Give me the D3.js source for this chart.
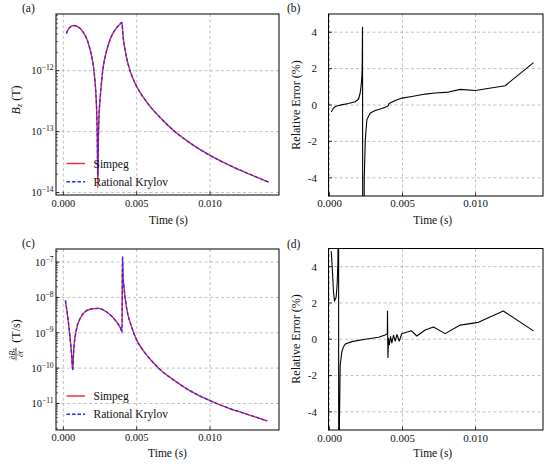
<!DOCTYPE html>
<html><head><meta charset="utf-8">
<script src="https://cdn.jsdelivr.net/npm/d3@7"></script>
<style>body{margin:0;background:#fff}</style>
</head><body><svg id="c" width="550" height="464" style="font-family:'Liberation Serif'"></svg>
<script>
// ---------- data ----------
const timeA = [0.0002,0.0004,0.0007,0.0010,0.0013,0.0016,0.0018,0.0020,0.0021,0.0022,0.00227,0.00231,0.00235,0.00239,0.00243,0.0025,0.0026,0.0027,0.0029,0.0032,0.0035,0.0038,0.0040,0.00405,0.0042,0.0044,0.0047,0.0050,0.0057,0.0066,0.0075,0.0086,0.0100,0.0113,0.0127,0.0140];
const bzSimpeg = [4.07e-12,5.01e-12,5.50e-12,5.25e-12,4.47e-12,3.31e-12,2.34e-12,1.41e-12,9.3e-13,5.0e-13,2.24e-13,8.9e-14,1.2e-14,7.9e-14,1.78e-13,3.3e-13,6.3e-13,1.07e-12,1.9e-12,3.3e-12,4.57e-12,5.62e-12,6.17e-12,4.17e-12,2.24e-12,1.32e-12,7.9e-13,5.5e-13,3.02e-13,1.70e-13,1.05e-13,6.6e-14,4.07e-14,2.82e-14,2.0e-14,1.48e-14];
const bzKrylov = [4.07e-12,5.01e-12,5.50e-12,5.25e-12,4.47e-12,3.31e-12,2.34e-12,1.41e-12,9.3e-13,5.0e-13,2.24e-13,9.2e-14,1.9e-14,8.2e-14,1.78e-13,3.3e-13,6.3e-13,1.07e-12,1.9e-12,3.3e-12,4.57e-12,5.62e-12,6.17e-12,4.17e-12,2.24e-12,1.32e-12,7.9e-13,5.5e-13,3.02e-13,1.70e-13,1.05e-13,6.6e-14,4.07e-14,2.82e-14,2.0e-14,1.48e-14];

const timeB = [0.00012,0.00027,0.0004,0.00062,0.0009,0.0013,0.00176,0.00199,0.0021,0.00217,0.00222,0.00224,0.00226,0.00228,0.00235,0.00238,0.00245,0.00256,0.00279,0.00313,0.00359,0.00393,0.0040,0.00408,0.0043,0.0045,0.00496,0.00564,0.00655,0.00723,0.00815,0.00895,0.00998,0.01203,0.01397];
const errB = [-0.38,-0.17,-0.08,-0.03,0.02,0.08,0.18,0.33,0.66,1.11,1.6,2.3,4.27,-12,-12,-4.0,-1.9,-0.8,-0.44,-0.3,-0.19,-0.08,-0.06,0.08,0.17,0.25,0.38,0.47,0.6,0.66,0.71,0.86,0.8,1.06,2.33];

const timeC = [0.00014,0.0003,0.00045,0.00056,0.00064,0.0007,0.00087,0.0012,0.0015,0.0019,0.0024,0.0029,0.0033,0.0036,0.0039,0.0040,0.00403,0.00407,0.00413,0.0043,0.00465,0.0050,0.00541,0.00582,0.00655,0.00746,0.00859,0.0100,0.0113,0.0127,0.0139];
const dbSimpeg = [8.3e-9,2.8e-9,7.9e-10,2.5e-10,8.9e-11,2.8e-10,1.12e-9,2.8e-9,4.0e-9,4.7e-9,4.9e-9,4.0e-9,2.95e-9,2.1e-9,1.35e-9,1.12e-9,1.41e-7,4.0e-8,2.0e-8,5.4e-9,1.48e-9,6.2e-10,3.3e-10,2.0e-10,9.5e-11,4.8e-11,2.35e-11,1.2e-11,7.3e-12,4.7e-12,3.2e-12];
const dbKrylov = [8.3e-9,2.8e-9,7.9e-10,2.5e-10,8.5e-11,2.8e-10,1.12e-9,2.8e-9,4.0e-9,4.7e-9,4.9e-9,4.0e-9,2.95e-9,2.1e-9,1.35e-9,1.0e-9,1.45e-7,4.0e-8,2.0e-8,5.4e-9,1.48e-9,6.2e-10,3.3e-10,2.0e-10,9.5e-11,4.8e-11,2.35e-11,1.2e-11,7.3e-12,4.7e-12,3.2e-12];

const timeD = [0.00012,0.0002,0.00027,0.00034,0.00045,0.00052,0.00057,0.0006,0.00062,0.00063,0.00066,0.00068,0.00073,0.00084,0.00096,0.00108,0.00153,0.00245,0.00336,0.00381,0.00396,0.00397,0.0040,0.00404,0.0041,0.00418,0.00427,0.00438,0.0045,0.00462,0.00477,0.00495,0.0056,0.00598,0.00655,0.00712,0.00792,0.00895,0.0102,0.0119,0.01397];
const errD = [4.85,3.74,2.63,2.1,2.3,3.0,4.1,6,12,-12,-12,-4.5,-1.44,-0.7,-0.41,-0.26,-0.13,0.0,0.11,0.24,0.3,1.55,-1.0,0.05,-0.3,0.15,-0.2,0.22,-0.1,0.26,-0.1,0.3,0.47,0.18,0.51,0.68,0.31,0.78,0.93,1.56,0.46];

const timeTicks = [0, 0.005, 0.010];
const timeTickLabels = ["0.000","0.005","0.010"];
const errTicks = [-4,-2,0,2,4];
const errTickLabels = ["-4","-2","0","2","4"];
const bzDecades = [-14,-13,-12];
const dbDecades = [-11,-10,-9,-8,-7];
const legendLabels = ["Simpeg","Rational Krylov"];
const panelLetters = ["(a)","(b)","(c)","(d)"];

// ---------- drawing ----------
const FONT = "font-family:'Liberation Serif'";
const svg = d3.select("#c");
let clipN = 0;

function txt(sel){ return sel.append("text").attr("style", FONT).attr("fill","#111"); }

function panel(p){
  const g = svg.append("g");
  const x = d3.scaleLinear().domain(p.xd).range([p.l,p.r]);
  const y = (p.log ? d3.scaleLog() : d3.scaleLinear()).domain(p.yd).range([p.b,p.t]);
  const id = "clip"+(clipN++);
  svg.append("clipPath").attr("id",id).append("rect")
     .attr("x",p.l).attr("y",p.t).attr("width",p.r-p.l).attr("height",p.b-p.t);
  const yt = p.log ? p.decades.map(d=>Math.pow(10,d)) : errTicks;
  g.selectAll(".gx").data(timeTicks).join("line")
    .attr("x1",d=>x(d)).attr("x2",d=>x(d)).attr("y1",p.t).attr("y2",p.b)
    .attr("stroke","#b0b0b0").attr("stroke-width",0.8).attr("stroke-dasharray","3,2.5");
  g.selectAll(".gy").data(yt).join("line")
    .attr("x1",p.l).attr("x2",p.r).attr("y1",d=>y(d)).attr("y2",d=>y(d))
    .attr("stroke","#b0b0b0").attr("stroke-width",0.8).attr("stroke-dasharray","3,2.5");
  const lg = g.append("g").attr("clip-path",`url(#${id})`);
  p.series.forEach(s=>{
    const ln = d3.line().x((d,i)=>x(s.t[i])).y(d=>y(d)).curve(s.curve||d3.curveLinear);
    lg.append("path").attr("d",ln(s.v)).attr("fill","none")
      .attr("stroke",s.color).attr("stroke-width",s.w)
      .attr("stroke-dasharray",s.dash||null).attr("stroke-linejoin","round");
  });
  g.append("rect").attr("x",p.l).attr("y",p.t).attr("width",p.r-p.l).attr("height",p.b-p.t)
    .attr("fill","none").attr("stroke","#000").attr("stroke-width",1);
  g.selectAll(".tx").data(timeTicks).join("line")
    .attr("x1",d=>x(d)).attr("x2",d=>x(d)).attr("y1",p.b).attr("y2",p.b-3.5).attr("stroke","#000").attr("stroke-width",0.8);
  g.selectAll(".ty").data(yt).join("line")
    .attr("x1",p.l).attr("x2",p.l+3.5).attr("y1",d=>y(d)).attr("y2",d=>y(d)).attr("stroke","#000").attr("stroke-width",0.8);
  if(p.log){
    const minors=[];
    const lo=Math.floor(Math.log10(p.yd[0])), hi=Math.ceil(Math.log10(p.yd[1]));
    for(let k=lo;k<hi;k++) for(let m=2;m<10;m++){const v=m*Math.pow(10,k); if(v>=p.yd[0]&&v<=p.yd[1]) minors.push(v);}
    g.selectAll(".tm").data(minors).join("line")
      .attr("x1",p.l).attr("x2",p.l+2).attr("y1",d=>y(d)).attr("y2",d=>y(d)).attr("stroke","#000").attr("stroke-width",0.6);
  }
  timeTicks.forEach((d,i)=>{
    txt(g).attr("x",x(d)).attr("y",p.xlabY).attr("text-anchor","middle")
      .attr("font-size",p.tfs).text(timeTickLabels[i]);
  });
  if(p.log){
    p.decades.forEach(d=>{
      const t = txt(g).attr("x",p.ylabX).attr("y",y(Math.pow(10,d))).attr("dy","0.36em")
        .attr("text-anchor","end").attr("font-size",p.tfs);
      t.append("tspan").text("10");
      t.append("tspan").attr("dy","-0.55em").attr("font-size",p.tfs*0.72).text("\u2212"+Math.abs(d));
    });
  } else {
    errTicks.forEach((d,i)=>{
      txt(g).attr("x",p.ylabX).attr("y",y(d)).attr("dy","0.35em")
        .attr("text-anchor","end").attr("font-size",p.tfs).text(errTickLabels[i]);
    });
  }
  txt(g).attr("x",(p.l+p.r)/2+p.xTitleDx).attr("y",p.xTitleY).attr("text-anchor","middle")
    .attr("font-size",11.5).text("Time (s)");
  txt(g).attr("x",p.letterX).attr("y",p.letterY).attr("font-size",11.5).text(p.letter);
  return {g,x,y};
}

panel({l:56,r:279,t:14,b:195,xd:[-0.0005,0.0147],log:true,yd:[Math.pow(10,-14.04),Math.pow(10,-11.07)],
  decades:bzDecades,tfs:10.5,xlabY:207,ylabX:53.5,xTitleY:224,xTitleDx:1,letter:panelLetters[0],letterX:22,letterY:12,
  series:[{t:timeA,v:bzSimpeg,color:"#ff2020",w:1.4,curve:d3.curveMonotoneX},
          {t:timeA,v:bzKrylov,color:"#2a2aff",w:1.3,dash:"3.5,2",curve:d3.curveMonotoneX}]});
panel({l:328.5,r:543,t:14,b:196,xd:[-0.00007,0.01462],log:false,yd:[-5,5],
  tfs:11,xlabY:207,ylabX:317,xTitleY:224,xTitleDx:-3,letter:panelLetters[1],letterX:287,letterY:12,
  series:[{t:timeB,v:errB,color:"#000",w:1.1}]});
panel({l:56,r:279,t:249,b:430,xd:[-0.0005,0.0147],log:true,yd:[Math.pow(10,-11.75),Math.pow(10,-6.63)],
  decades:dbDecades,tfs:10.5,xlabY:441,ylabX:53.5,xTitleY:457,xTitleDx:0,letter:panelLetters[2],letterX:22,letterY:247,
  series:[{t:timeC,v:dbSimpeg,color:"#ff2020",w:1.4,curve:d3.curveMonotoneX},
          {t:timeC,v:dbKrylov,color:"#2a2aff",w:1.3,dash:"3.5,2",curve:d3.curveMonotoneX}]});
panel({l:328.5,r:543,t:248.5,b:430,xd:[-0.00007,0.01462],log:false,yd:[-5,5],
  tfs:11,xlabY:442,ylabX:317,xTitleY:457,xTitleDx:-3,letter:panelLetters[3],letterX:287,letterY:248,
  series:[{t:timeD,v:errD,color:"#000",w:1.1}]});

function legend(y0){
  const cols=["#ff2020","#2a2aff"], dashes=[null,"3.5,2"];
  legendLabels.forEach((lab,i)=>{
    const yy=y0+i*18.3;
    svg.append("line").attr("x1",66.5).attr("x2",85).attr("y1",yy).attr("y2",yy)
      .attr("stroke",cols[i]).attr("stroke-width",1.4).attr("stroke-dasharray",dashes[i]);
    txt(svg).attr("x",93.5).attr("y",yy+4).attr("font-size",11.5).text(lab);
  });
}
legend(163.5);
legend(396);

const ya = txt(svg).attr("transform","translate(20,100) rotate(-90)").attr("text-anchor","middle").attr("font-size",12);
ya.append("tspan").attr("font-style","italic").text("B");
ya.append("tspan").attr("font-size",8.5).attr("dy","0.25em").attr("font-style","italic").text("z");
ya.append("tspan").attr("dy","-0.2em").text(" (T)");

txt(svg).attr("transform","translate(300,105) rotate(-90)").attr("text-anchor","middle").attr("font-size",12).text("Relative Error (%)");
txt(svg).attr("transform","translate(300,339) rotate(-90)").attr("text-anchor","middle").attr("font-size",12).text("Relative Error (%)");

const yc = svg.append("g").attr("transform","translate(16,340) rotate(-90)");
const num = txt(yc).attr("x",-14).attr("y",-1.5).attr("text-anchor","middle").attr("font-size",8);
num.append("tspan").text("\u2202");
num.append("tspan").attr("font-style","italic").text("B");
num.append("tspan").attr("font-size",6).attr("dy","0.2em").attr("font-style","italic").text("z");
yc.append("line").attr("x1",-20.5).attr("x2",-7.5).attr("y1",0).attr("y2",0).attr("stroke","#000").attr("stroke-width",0.6);
const den = txt(yc).attr("x",-14).attr("y",7).attr("text-anchor","middle").attr("font-size",8);
den.append("tspan").text("\u2202");
den.append("tspan").attr("font-style","italic").text("t");
txt(yc).attr("x",9).attr("y",4.2).attr("text-anchor","middle").attr("font-size",12).text("(T/s)");
</script></body></html>
